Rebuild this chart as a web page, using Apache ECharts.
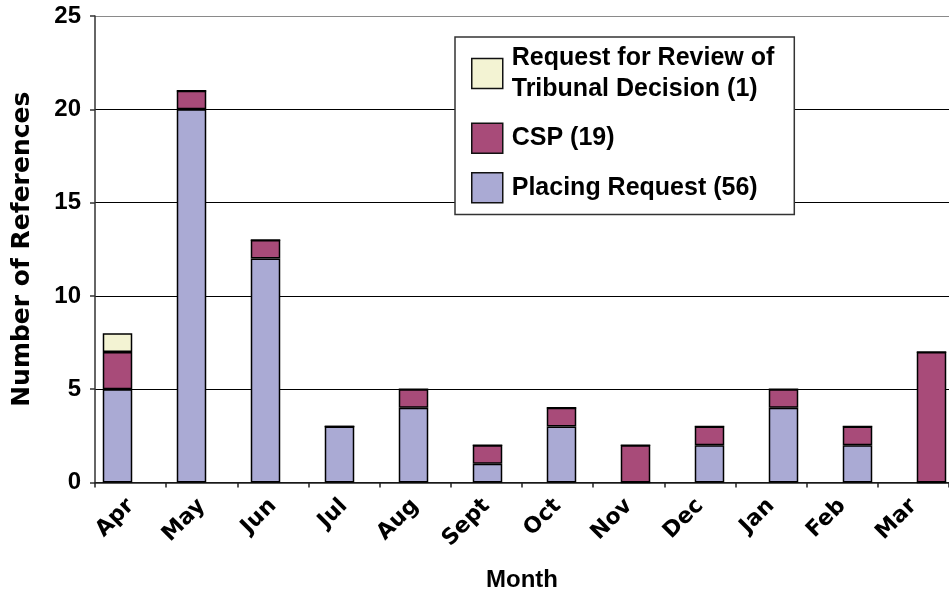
<!DOCTYPE html>
<html>
<head>
<meta charset="utf-8">
<script src="https://cdn.jsdelivr.net/npm/echarts@6/dist/echarts.min.js"></script>
<style>
  html, body { margin: 0; padding: 0; background: #fff; }
  #chart { width: 949px; height: 591px; }
</style>
</head>
<body>
<div id="chart"></div>
<script>
// months (financial year, Apr -> Mar)
const months = ['Apr', 'May', 'Jun', 'Jul', 'Aug', 'Sept', 'Oct', 'Nov', 'Dec', 'Jan', 'Feb', 'Mar'];

// stacked series, bottom to top
const placingRequest = [5, 20, 12, 3, 4, 1, 3, 0, 2, 4, 2, 0];
const csp = [2, 1, 1, 0, 1, 1, 1, 2, 1, 1, 1, 7];
const reviewRequest = [1, 0, 0, 0, 0, 0, 0, 0, 0, 0, 0, 0];

const seriesNames = ['Placing Request (56)', 'CSP (19)', 'Request for Review of\nTribunal Decision (1)'];
const seriesColors = ['#AAAAD4', '#A84B79', '#F3F3D3'];

const yTicks = [0, 5, 10, 15, 20, 25];

const chart = echarts.init(document.getElementById('chart'));

function barSeries(name, data, color) {
  return {
    name: name,
    type: 'bar',
    stack: 'refs',
    xAxisIndex: 1,
    yAxisIndex: 1,
    barWidth: 29.5,
    data: data,
    itemStyle: { color: color, borderColor: '#000', borderWidth: 1.5 }
  };
}

const option = {
  backgroundColor: '#fff',
  animation: false,
  legend: {
    orient: 'vertical',
    left: 455,
    top: 37,
    padding: [5.5, 20, 11, 16],
    itemGap: 18,
    itemWidth: 31,
    itemHeight: 30,
    icon: 'rect',
    backgroundColor: '#fff',
    borderColor: '#333',
    borderWidth: 1.5,
    borderRadius: 0,
    data: [seriesNames[2], seriesNames[1], seriesNames[0]],
    textStyle: {
      fontFamily: 'Liberation Sans',
      fontWeight: 'bold',
      fontSize: 25,
      lineHeight: 31,
      color: '#000',
      padding: [0, 0, 0, 4]
    },
    itemStyle: { borderColor: '#111', borderWidth: 1.5 }
  },
  grid: [
    // visible axes
    { left: 95, right: 0, top: 16, bottom: 108.5, outerBoundsMode: 'none' },
    // bars (slightly wider category band, as in the source)
    { left: 80.5, width: 888, top: 16, bottom: 108.5, outerBoundsMode: 'none' }
  ],
  xAxis: [
    {
      gridIndex: 0,
      type: 'category',
      data: months,
      name: 'Month',
      nameLocation: 'middle',
      nameGap: 86,
      nameTextStyle: { fontFamily: 'Liberation Sans', fontWeight: 'bold', fontSize: 24, color: '#000' },
      axisLine: { lineStyle: { color: '#222', width: 1.5 } },
      axisTick: { show: true, length: 5, lineStyle: { color: '#222', width: 1.5 } },
      axisLabel: {
        rotate: 45,
        margin: 20,
        fontFamily: 'DejaVu Sans',
        fontWeight: 'bold',
        fontSize: 22,
        color: '#000'
      }
    },
    {
      gridIndex: 1,
      type: 'category',
      data: months,
      show: false
    }
  ],
  yAxis: [
    {
      gridIndex: 0,
      type: 'value',
      min: 0,
      max: 25,
      interval: 5,
      name: 'Number of References',
      nameLocation: 'middle',
      nameGap: 60,
      nameTextStyle: { fontFamily: 'DejaVu Sans', fontWeight: 'bold', fontSize: 25, color: '#000' },
      axisLine: { show: true, lineStyle: { color: '#333', width: 1.5 } },
      axisTick: { show: true, length: 5, lineStyle: { color: '#333', width: 1.5 } },
      axisLabel: {
        margin: 14,
        fontFamily: 'Liberation Sans',
        fontWeight: 'bold',
        fontSize: 24,
        color: '#000',
        formatter: v => (yTicks.includes(v) ? String(v) : '')
      },
      splitLine: {
        show: true,
        lineStyle: { color: ['#000', '#000', '#000', '#000', '#000', '#8a8a8a'], width: 1 }
      }
    },
    {
      gridIndex: 1,
      type: 'value',
      min: 0,
      max: 25,
      show: false,
      splitLine: { show: false }
    }
  ],
  series: [
    barSeries(seriesNames[0], placingRequest, seriesColors[0]),
    barSeries(seriesNames[1], csp, seriesColors[1]),
    barSeries(seriesNames[2], reviewRequest, seriesColors[2])
  ]
};

chart.setOption(option);
</script>
</body>
</html>
